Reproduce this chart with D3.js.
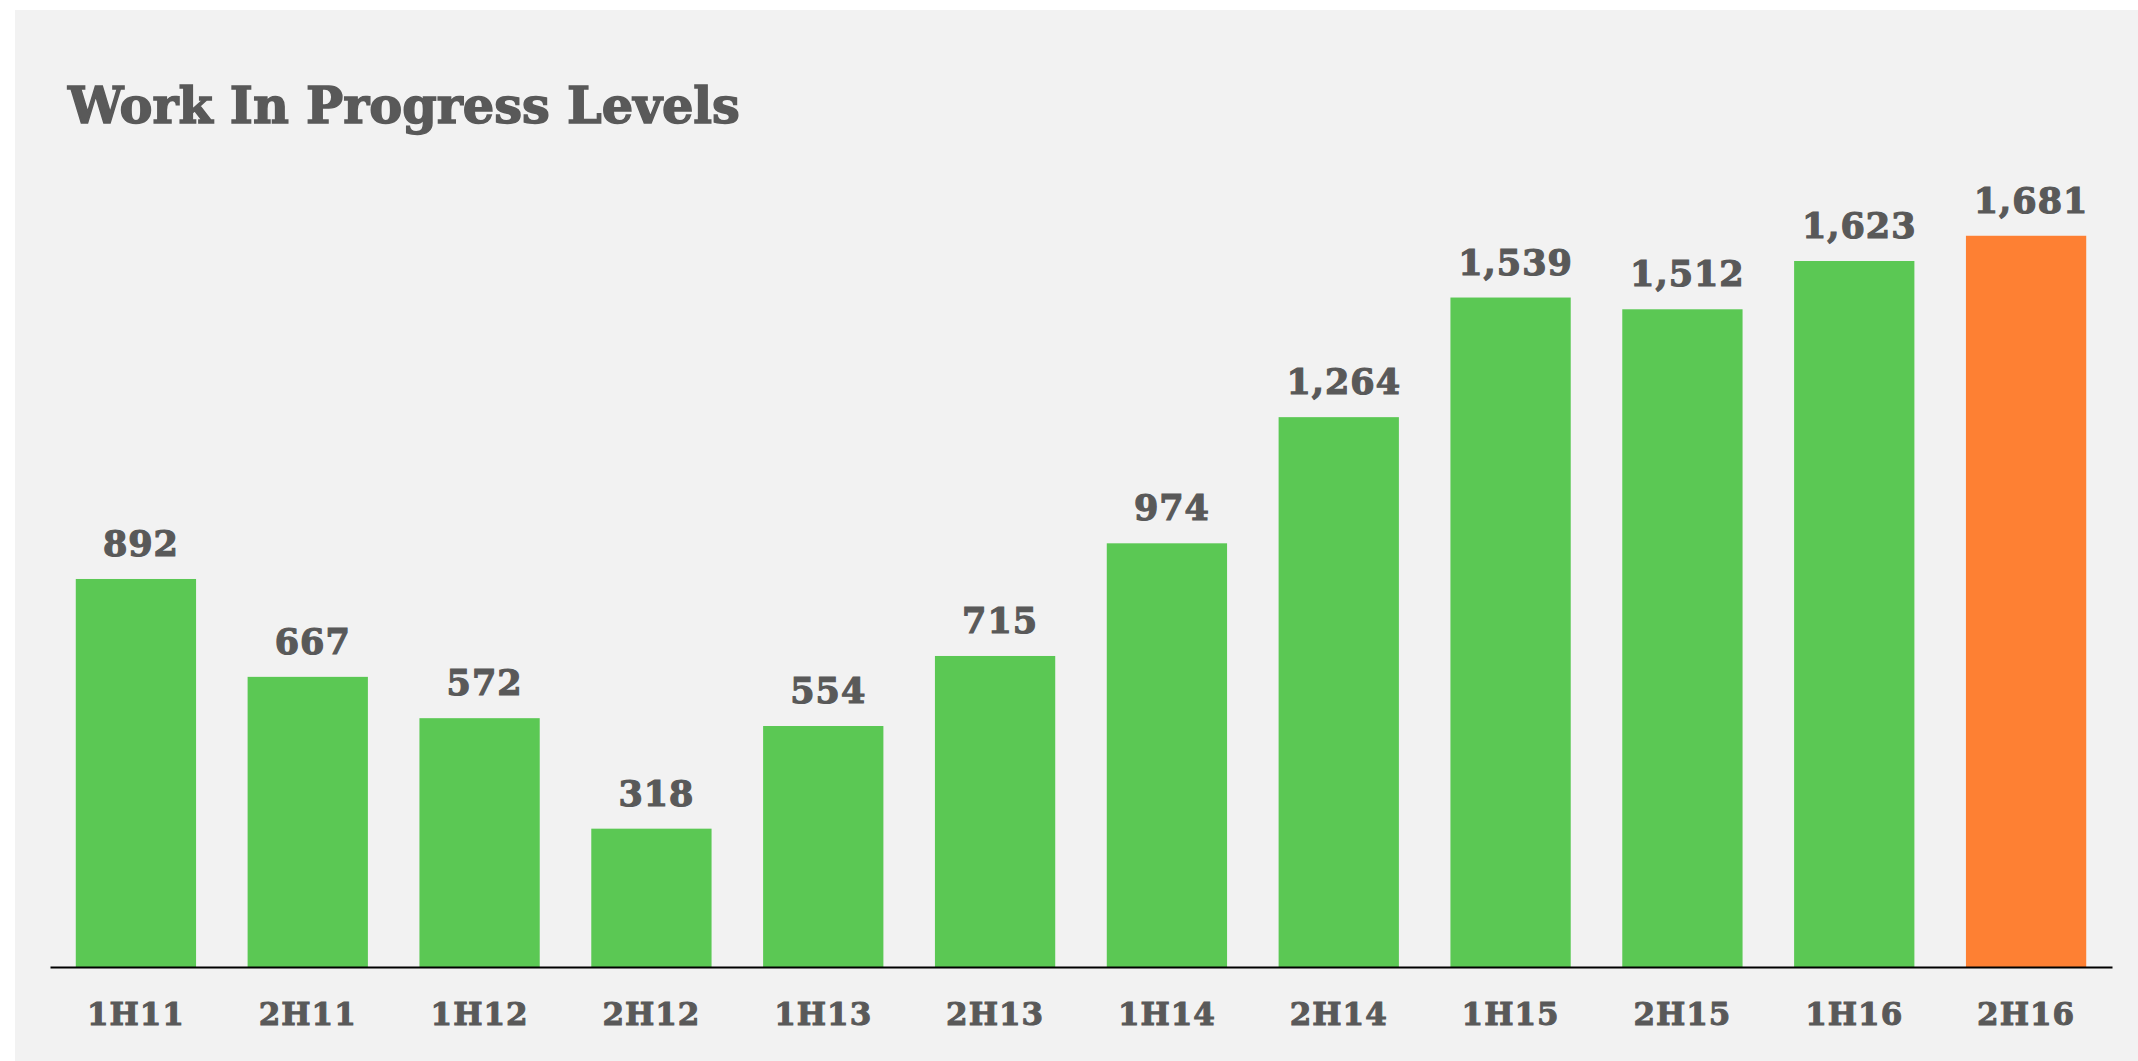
<!DOCTYPE html>
<html>
<head>
<meta charset="utf-8">
<script src="https://cdn.jsdelivr.net/npm/d3@7"></script>
<style>
  html, body { margin: 0; padding: 0; background: #ffffff; }
  svg { display: block; }
</style>
</head>
<body>
<svg id="chart" width="2138" height="1061"></svg>
<script>
// Half-year periods and work-in-progress counts
const periods = ["1H11", "2H11", "1H12", "2H12", "1H13", "2H13", "1H14", "2H14", "1H15", "2H15", "1H16", "2H16"];
const wipLevels = [892, 667, 572, 318, 554, 715, 974, 1264, 1539, 1512, 1623, 1681];
const highlighted = ["2H16"];
const chartTitle = "Work In Progress Levels";

const W = 2138, H = 1061;
const textColor = "#595959";
const serif = "'DejaVu Serif', 'Liberation Serif', serif";

const svg = d3.select("#chart");

// panel background
svg.append("rect")
  .attr("x", 15).attr("y", 10)
  .attr("width", W - 15).attr("height", H - 10)
  .attr("fill", "#f2f2f2");

const x = d3.scaleBand()
  .domain(periods)
  .range([50, 2112])
  .paddingInner(0.3)
  .paddingOuter(0.15);

const y = d3.scaleLinear()
  .domain([0, 1800])
  .range([967, 184]);

const data = periods.map((p, i) => ({ period: p, value: wipLevels[i] }));

// bars
svg.append("g").selectAll("rect")
  .data(data)
  .join("rect")
  .attr("x", d => x(d.period))
  .attr("y", d => y(d.value))
  .attr("width", x.bandwidth())
  .attr("height", d => y(0) - y(d.value))
  .attr("fill", d => highlighted.includes(d.period) ? "#fe8033" : "#5bc854");

// value labels above bars
svg.append("g").selectAll("text")
  .data(data)
  .join("text")
  .attr("x", d => x(d.period) + x.bandwidth() / 2 + 5)
  .attr("y", d => y(d.value) - 23)
  .attr("text-anchor", "middle")
  .attr("font-family", serif)
  .attr("font-weight", "bold")
  .attr("font-size", 35)
  .attr("letter-spacing", 1)
  .attr("fill", textColor)
  .attr("stroke", textColor)
  .attr("stroke-width", 1.2)
  .text(d => d3.format(",")(d.value));

// category axis
const xAxis = svg.append("g")
  .attr("transform", `translate(0,${y(0)})`)
  .call(d3.axisBottom(x).tickSize(0).tickPadding(58));

xAxis.select(".domain")
  .attr("stroke", "#000")
  .attr("stroke-width", 2);

xAxis.selectAll(".tick text")
  .attr("font-family", serif)
  .attr("font-weight", "bold")
  .attr("font-size", 31)
  .attr("letter-spacing", 1)
  .attr("fill", textColor)
  .attr("stroke", textColor)
  .attr("stroke-width", 1)
  .attr("dy", 0);

// title
const title = svg.append("text")
  .attr("x", 68)
  .attr("y", 123)
  .attr("font-family", serif)
  .attr("font-weight", "bold")
  .attr("font-size", 51)
  .attr("fill", textColor)
  .attr("stroke", textColor)
  .attr("stroke-width", 1.5)
  .text(chartTitle);

// condense the title to its set width
const natural = title.node().getComputedTextLength();
const targetWidth = 672;
title.attr("transform", `translate(68,0) scale(${targetWidth / natural},1) translate(-68,0)`);
</script>
</body>
</html>
